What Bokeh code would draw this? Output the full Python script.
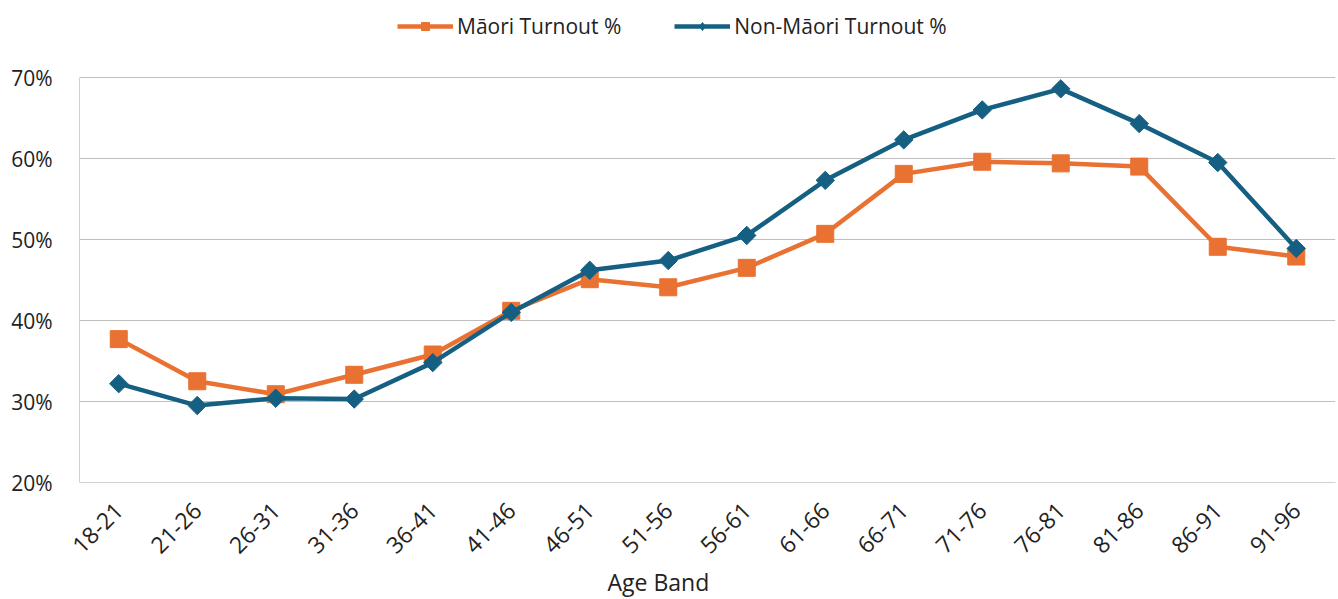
from bokeh.plotting import figure
from bokeh.models import (ColumnDataSource, FactorRange, Range1d, NumeralTickFormatter,
                          Legend, LegendItem, Title)
from bokeh.embed import file_html
from bokeh.resources import INLINE

age_bands = ["18-21", "21-26", "26-31", "31-36", "36-41", "41-46", "46-51", "51-56",
             "56-61", "61-66", "66-71", "71-76", "76-81", "81-86", "86-91", "91-96"]
maori = [37.7, 32.5, 30.9, 33.3, 35.8, 41.2, 45.1, 44.1,
         46.5, 50.7, 58.1, 59.6, 59.4, 59.0, 49.1, 47.9]
non_maori = [32.2, 29.5, 30.4, 30.3, 34.8, 41.0, 46.2, 47.4,
             50.5, 57.3, 62.3, 66.0, 68.6, 64.3, 59.5, 48.9]
y_ticks = [0.2, 0.3, 0.4, 0.5, 0.6, 0.7]

ORANGE = "#E97132"
BLUE = "#156082"
FONT = "Open Sans"

src = ColumnDataSource(dict(
    band=age_bands,
    maori=[v / 100 for v in maori],
    non=[v / 100 for v in non_maori],
))

# frame spans from the top of the page to the 20% line; the legend sits in the headroom
y_top = 0.2 + 0.5 * 482 / 405

p = figure(width=1338, height=599, output_backend="svg", toolbar_location=None,
           x_range=FactorRange(*age_bands, range_padding=0),
           y_range=Range1d(0.2, y_top),
           min_border_left=79, min_border_right=3, min_border_top=0, min_border_bottom=117)
p.outline_line_color = None
p.background_fill_color = "white"
p.border_fill_color = "white"

l1 = p.line("band", "maori", source=src, line_color=ORANGE, line_width=4.5)
s1 = p.scatter("band", "maori", source=src, marker="square", size=17,
               fill_color=ORANGE, line_color=ORANGE)
l2 = p.line("band", "non", source=src, line_color=BLUE, line_width=4.5)
s2 = p.scatter("band", "non", source=src, marker="square", size=13, angle=0.785398,
               fill_color=BLUE, line_color=BLUE)
# legend-only diamond glyph (its single point is NaN, so nothing is drawn in the plot)
s2_leg = p.scatter(x=[age_bands[0]], y=[float("nan")], marker="diamond", size=16,
                   fill_color=BLUE, line_color=BLUE)

p.yaxis.ticker = y_ticks
p.yaxis.bounds = (min(y_ticks), max(y_ticks))
p.yaxis.formatter = NumeralTickFormatter(format="0%")
p.yaxis.major_tick_line_color = None
p.yaxis.minor_tick_line_color = None
p.yaxis.axis_line_color = "#D0D0D0"
p.yaxis.major_label_standoff = 21
p.yaxis.major_label_text_font = FONT
p.yaxis.major_label_text_font_size = "21px"
p.yaxis.major_label_text_color = "#222222"

p.xaxis.major_tick_line_color = None
p.xaxis.minor_tick_line_color = None
p.xaxis.axis_line_color = "#D0D0D0"
p.xaxis.major_label_orientation = 0.785398
p.xaxis.major_label_standoff = 18
p.xaxis.major_label_text_font = FONT
p.xaxis.major_label_text_font_size = "23px"
p.xaxis.major_label_text_color = "#222222"

p.add_layout(Title(text="Age Band", align="left", offset=528, text_font=FONT,
                   text_font_size="23px", text_font_style="normal", text_color="#222222",
                   standoff=0), "below")

p.xgrid.grid_line_color = None
p.ygrid.grid_line_color = "#BFBFBF"
p.ygrid.grid_line_width = 1

legend = Legend(items=[LegendItem(label="Māori Turnout %", renderers=[l1, s1]),
                       LegendItem(label="Non-Māori Turnout %", renderers=[l2, s2_leg])],
                orientation="horizontal", location=(318, 442),
                label_text_font=FONT, label_text_font_size="21px", label_text_color="#222222",
                glyph_width=56, glyph_height=20, spacing=53, padding=0, margin=0,
                border_line_color=None, background_fill_alpha=0,
                label_standoff=4)
p.add_layout(legend, "center")

open("out.html", "w").write(file_html(p, INLINE))
